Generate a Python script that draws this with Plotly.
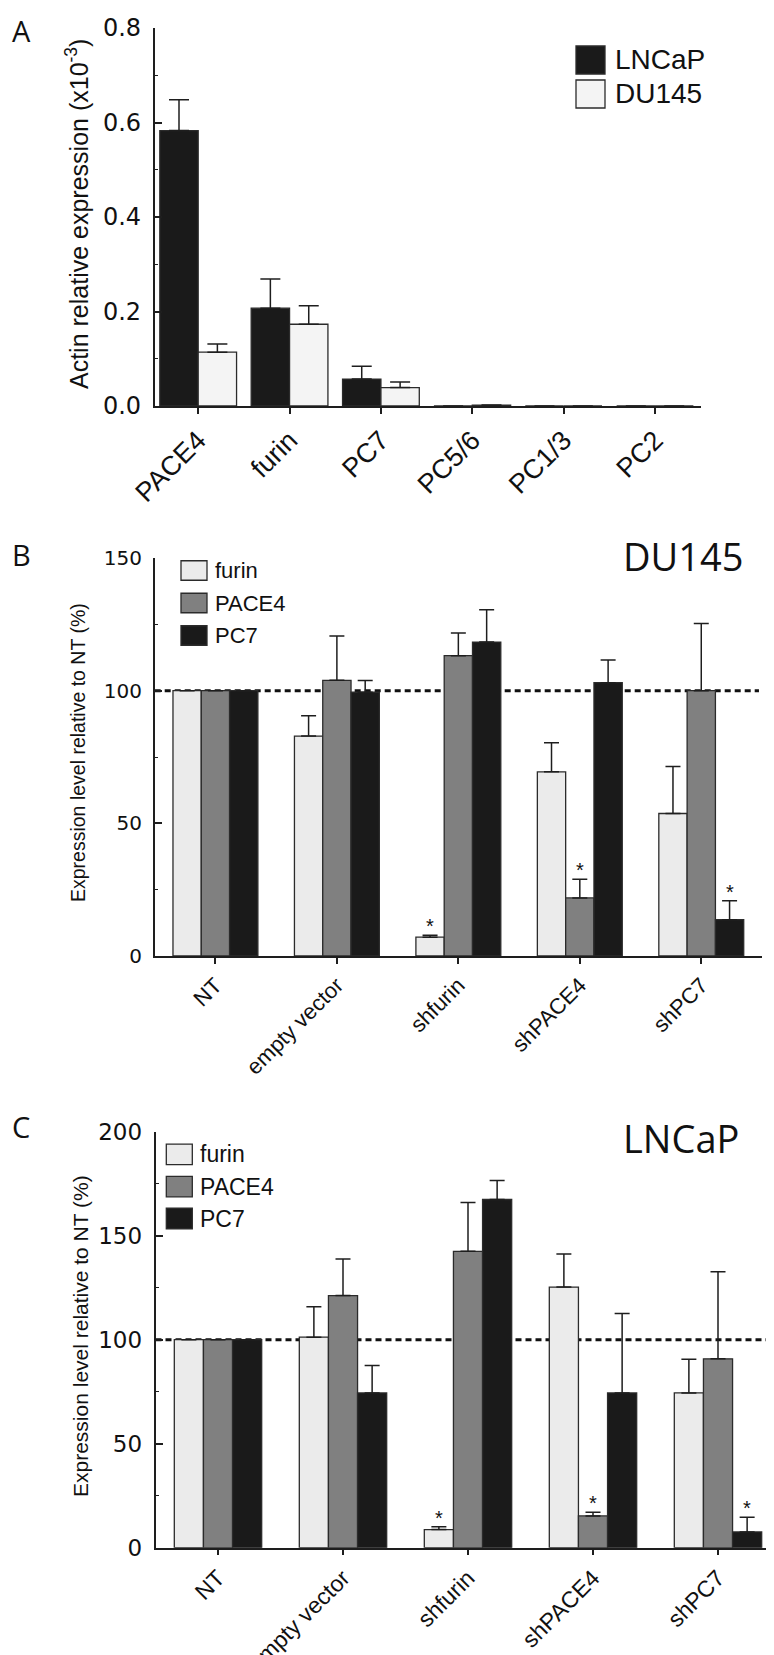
import plotly.graph_objects as go

W, H = 774, 1655

# ---------------- data ----------------
# Panel A
genes_A = ["PACE4", "furin", "PC7", "PC5/6", "PC1/3", "PC2"]
lncap_A = [0.583, 0.207, 0.057, 0.0, 0.0, 0.0]
lncap_A_sem = [0.065, 0.062, 0.027, 0.0, 0.0, 0.0]
du145_A = [0.114, 0.173, 0.039, 0.002, 0.0, 0.0]
du145_A_sem = [0.017, 0.039, 0.012, 0.0, 0.0, 0.0]
series_A = ["LNCaP", "DU145"]

# Panels B and C
conditions = ["NT", "empty vector", "shfurin", "shPACE4", "shPC7"]
enzymes = ["furin", "PACE4", "PC7"]

du_furin = [100, 82.9, 7.1, 69.4, 53.7]
du_furin_sem = [0, 7.6, 0.7, 11.0, 17.7]
du_pace4 = [100, 103.9, 113.2, 21.9, 100.0]
du_pace4_sem = [0, 16.7, 8.5, 7.0, 25.3]
du_pc7 = [100, 99.4, 118.3, 103.0, 13.7]
du_pc7_sem = [0, 4.4, 12.2, 8.6, 7.1]

ln_furin = [100, 101.2, 8.7, 125.3, 74.4]
ln_furin_sem = [0, 14.7, 1.4, 15.9, 16.2]
ln_pace4 = [100, 121.2, 142.5, 15.3, 90.8]
ln_pace4_sem = [0, 17.6, 23.5, 1.8, 41.9]
ln_pc7 = [100, 74.4, 167.4, 74.4, 7.6]
ln_pc7_sem = [0, 13.2, 9.1, 38.2, 7.0]

# significant knockdowns: (condition, enzyme)
signif = [("shfurin", "furin"), ("shPACE4", "PACE4"), ("shPC7", "PC7")]

# ---------------- styling ----------------
def px(x):
    return x / W

def py(y):
    return 1 - y / H

AX = "#1e1e1e"
EDGE = "#2b2b2b"
fills_A = ["#1a1a1a", "#f4f4f4"]
fills_BC = ["#ebebeb", "#808080", "#1a1a1a"]
SANS = "Liberation Sans, Arial, sans-serif"
NUM = "DejaVu Sans, sans-serif"
HUM = "Open Sans, sans-serif"

fig = go.Figure()

# Panel A bars
wA = 0.42
for i, (vals, sem) in enumerate([(lncap_A, lncap_A_sem), (du145_A, du145_A_sem)]):
    fig.add_trace(go.Bar(
        x=genes_A, y=vals, name=series_A[i], xaxis="x", yaxis="y",
        width=wA, offset=-wA + i * wA,
        marker=dict(color=fills_A[i], line=dict(color=EDGE, width=1.3)),
        error_y=dict(type="data", symmetric=False, array=sem, arrayminus=[0] * len(sem),
                     color=AX, thickness=1.5, width=10),
        showlegend=False))

# Panels B, C bars
wBC = 0.233
panelB = [(du_furin, du_furin_sem), (du_pace4, du_pace4_sem), (du_pc7, du_pc7_sem)]
panelC = [(ln_furin, ln_furin_sem), (ln_pace4, ln_pace4_sem), (ln_pc7, ln_pc7_sem)]
for xa, ya, data in [("x2", "y2", panelB), ("x3", "y3", panelC)]:
    for i, (vals, sem) in enumerate(data):
        fig.add_trace(go.Bar(
            x=conditions, y=vals, name=enzymes[i], xaxis=xa, yaxis=ya,
            width=wBC, offset=-1.5 * wBC + i * wBC,
            marker=dict(color=fills_BC[i], line=dict(color=EDGE, width=1.3)),
            error_y=dict(type="data", symmetric=False, array=sem, arrayminus=[0] * len(sem),
                         color=AX, thickness=1.5, width=7.5),
            showlegend=False))

# axes geometry (pixels)
A_x = (146.7, 692.7); A_y = (20, 398)
B_x = (146.7, 754.0); B_y = (550, 948)
C_x = (147.5, 772.5); C_y = (1123.7, 1539.7)

def xax(dom, rng, fs, anchor):
    return dict(domain=[px(dom[0]), px(dom[1])], range=rng, anchor=anchor,
                showline=True, linecolor=AX, linewidth=1.5, ticks="outside",
                ticklen=6, tickwidth=1.5, tickcolor=AX, tickangle=-45,
                tickfont=dict(family=SANS, size=fs, color="#111"),
                showgrid=False, zeroline=False, fixedrange=True, automargin=False)

def yax(dom, rng, dt, mdt, fs, anchor, fmt=None):
    d = dict(domain=[py(dom[1]), py(dom[0])], range=rng, anchor=anchor,
             showline=True, linecolor=AX, linewidth=1.5, ticks="inside",
             ticklen=8, tickwidth=1.5, tickcolor=AX, dtick=dt, tick0=0,
             minor=dict(dtick=mdt, ticks="inside", ticklen=4, tickwidth=1.2, tickcolor=AX),
             tickfont=dict(family=NUM, size=fs, color="#111"), ticklabelstandoff=7,
             showgrid=False, zeroline=False, fixedrange=True, automargin=False)
    if fmt:
        d["tickformat"] = fmt
    return d

fig.update_layout(
    width=W, height=H, margin=dict(l=0, r=0, t=0, b=0, autoexpand=False),
    paper_bgcolor="white", plot_bgcolor="white", barmode="overlay", showlegend=False,
    xaxis=xax(A_x, [-0.476, 5.5], 27, "y"),
    yaxis=yax(A_y, [0, 0.8], 0.2, 0.1, 24, "x", ".1f"),
    xaxis2=xax(B_x, [-0.5, 4.5], 22, "y2"),
    yaxis2=yax(B_y, [0, 150], 50, 25, 20, "x2"),
    xaxis3=xax(C_x, [-0.5, 4.5], 23, "y3"),
    yaxis3=yax(C_y, [0, 200], 50, 25, 23, "x3"),
)

shapes = []
# dashed 100% reference lines
for xa, ya in [("x2", "y2"), ("x3", "y3")]:
    shapes.append(dict(type="line", xref=f"{xa} domain", yref=ya, x0=0, x1=0.995, y0=100, y1=100,
                       line=dict(color="#111", width=3, dash="6px,4px"), layer="below"))

annotations = []
# panel letters
for letter, x, y in [("A", 13, 22), ("B", 13, 546), ("C", 13, 1118)]:
    annotations.append(dict(text=letter, x=px(x), y=py(y), xref="paper", yref="paper",
                            xanchor="center", yanchor="middle", showarrow=False,
                            font=dict(family=HUM, size=29, color="#111")))
# cell-line titles
annotations.append(dict(text="DU145", x=px(737), y=py(548), xref="paper", yref="paper",
                        xanchor="right", yanchor="middle", showarrow=False,
                        font=dict(family=HUM, size=38, color="#111")))
annotations.append(dict(text="LNCaP", x=px(733), y=py(1130), xref="paper", yref="paper",
                        xanchor="right", yanchor="middle", showarrow=False,
                        font=dict(family=HUM, size=38, color="#111")))
# y axis titles
annotations.append(dict(text="Actin relative expression (x10<sup>-3</sup>)", x=px(69), y=py(206),
                        xref="paper", yref="paper", textangle=-90, showarrow=False,
                        xanchor="center", yanchor="middle",
                        font=dict(family=SANS, size=25, color="#111")))
annotations.append(dict(text="Expression level relative to NT (%)", x=px(70), y=py(745),
                        xref="paper", yref="paper", textangle=-90, showarrow=False,
                        xanchor="center", yanchor="middle",
                        font=dict(family=SANS, size=19.5, color="#111")))
annotations.append(dict(text="Expression level relative to NT (%)", x=px(72), y=py(1328),
                        xref="paper", yref="paper", textangle=-90, showarrow=False,
                        xanchor="center", yanchor="middle",
                        font=dict(family=SANS, size=21, color="#111")))

# custom legends (large swatches)
def legend(names, fills, x0, ys, sw, sh, tx, fs):
    for n, f, yc in zip(names, fills, ys):
        shapes.append(dict(type="rect", xref="paper", yref="paper",
                           x0=px(x0), x1=px(x0 + sw), y0=py(yc + sh / 2), y1=py(yc - sh / 2),
                           fillcolor=f, line=dict(color=EDGE, width=1.3)))
        annotations.append(dict(text=n, x=px(tx), y=py(yc), xref="paper", yref="paper",
                                xanchor="left", yanchor="middle", showarrow=False,
                                font=dict(family=SANS, size=fs, color="#111")))

legend(series_A, fills_A, 568, [52, 86], 29, 28, 605, 28)
legend(enzymes, fills_BC, 173, [562.5, 595, 627.5], 26, 19.5, 205, 22)
legend(enzymes, fills_BC, 158.3, [1146.3, 1178.6, 1210.5], 26, 20.5, 190, 23)

# significance asterisks
for xa, ya, data, dom in [("x2", "y2", panelB, B_x), ("x3", "y3", panelC, C_x)]:
    ppu = (dom[1] - dom[0]) / 5.0
    for cond, enz in signif:
        ci = conditions.index(cond)
        ei = enzymes.index(enz)
        vals, sem = data[ei]
        annotations.append(dict(text="*", x=cond, y=vals[ci] + sem[ci], xref=xa, yref=ya,
                                xshift=(ei - 1) * wBC * ppu, yshift=-4,
                                xanchor="center", yanchor="bottom", showarrow=False,
                                font=dict(family=SANS, size=20, color="#111")))

fig.update_layout(shapes=shapes, annotations=annotations)
fig.write_html("out.html")
